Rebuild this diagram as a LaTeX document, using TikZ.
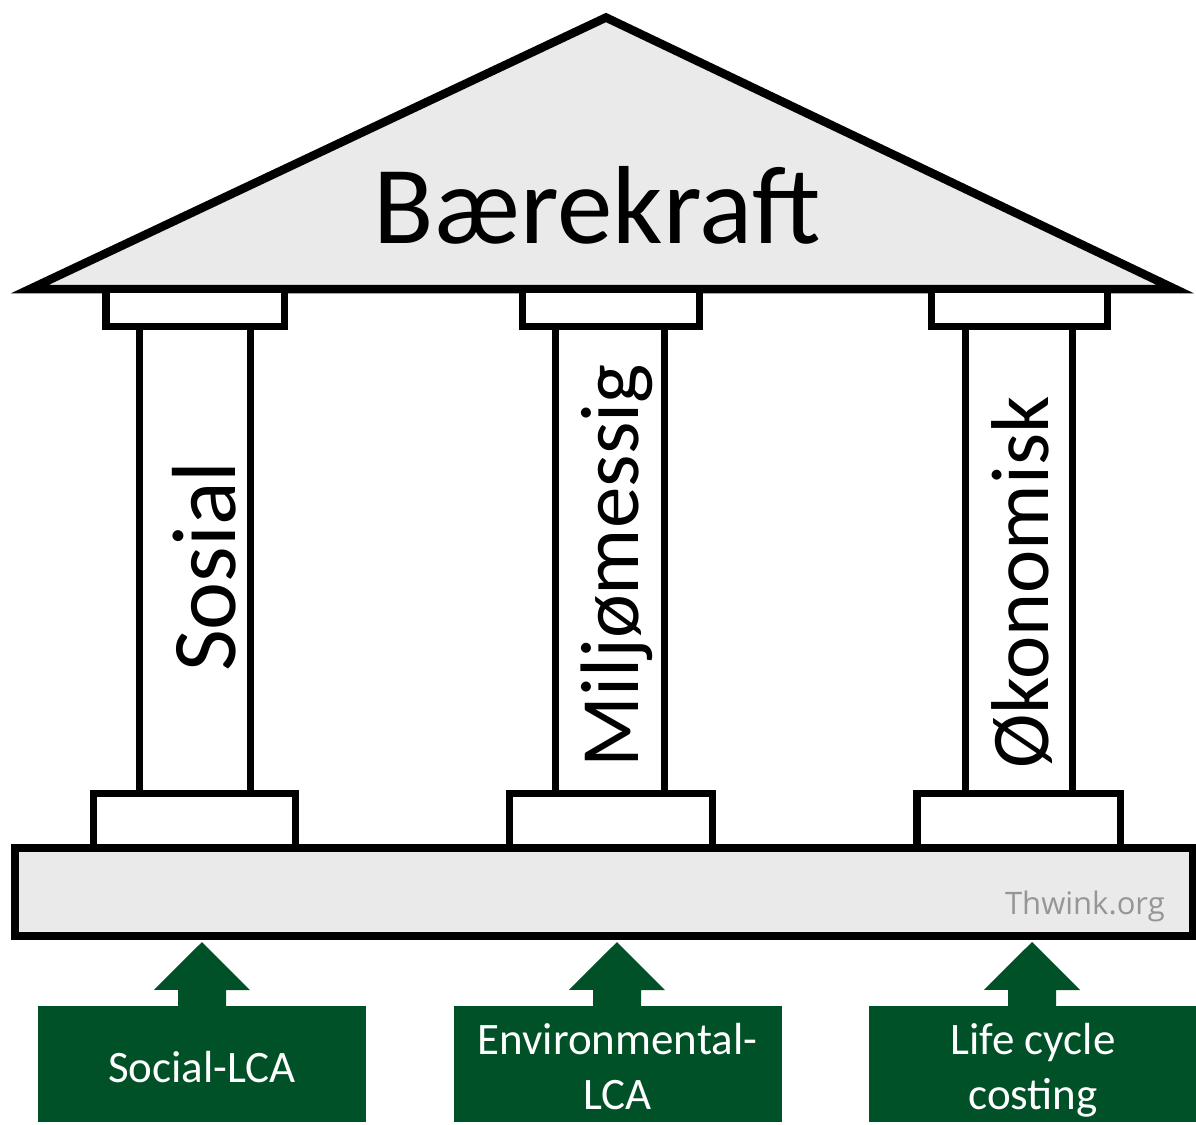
\documentclass[tikz,border=0pt]{standalone}
\usepackage{fontspec}
\setmainfont{Carlito}
\newfontfamily\wmfont{Open Sans}
\definecolor{roofgray}{RGB}{234,234,234}
\definecolor{lcagreen}{RGB}{0,80,40}
\definecolor{wmgray}{RGB}{150,150,150}
\tikzset{
  roofline/.style={line width=8.5pt, line join=miter, draw=black, fill=roofgray},
  partline/.style={line width=7.5pt, draw=black, fill=white},
  pillartext/.style={rotate=90, anchor=base west, inner sep=0pt, text=black},
  lcabox/.style={fill=lcagreen, draw=none, minimum width=328pt, minimum height=116pt,
    inner sep=0pt},
  lcatext/.style={inner sep=0pt, text=white, align=center, font=\fontsize{45}{55}\selectfont},
  blockarrow/.style={fill=lcagreen, draw=none}
}
\begin{document}
\begin{tikzpicture}[x=1pt,y=-1pt]
\useasboundingbox (0,0) rectangle (1196,1124);

% roof
\draw[roofline] (30,289) -- (606,17.5) -- (1175,289) -- cycle;
\node[inner sep=0pt, anchor=base, font=\fontsize{111}{120}\selectfont] (title) at (597,243) {Bærekraft};

% shafts
\draw[partline] (139.5,326.5) rectangle (250.5,793.5);
\draw[partline] (555.5,326.5) rectangle (664.5,793.5);
\draw[partline] (965.5,326.5) rectangle (1072.5,793.5);

% capitals
\draw[partline] (106,289) rectangle (284.5,326.5);
\draw[partline] (522.5,289) rectangle (699.5,326.5);
\draw[partline] (931.5,289) rectangle (1107.5,326.5);

% plinths
\draw[partline] (93.5,793.5) rectangle (295.5,848);
\draw[partline] (509.5,793.5) rectangle (712.5,848);
\draw[partline] (917,793.5) rectangle (1120.5,848);

% pillar labels
\node[pillartext, font=\fontsize{91}{100}\selectfont] (sosial) at (235,672) {Sosial};
\node[pillartext, font=\fontsize{83}{90}\selectfont] (miljo) at (638,768) {Miljømessig};
\node[pillartext, font=\fontsize{82}{90}\selectfont] (okonomi) at (1048,769) {Økonomisk};

% base slab
\draw[line width=8.5pt, draw=black, fill=roofgray] (15,848) rectangle (1193,936);
\node[anchor=base east, inner sep=0pt, text=wmgray, font=\wmfont\fontsize{31}{36}\selectfont] (wm) at (1165,914) {Thwink.org};

% method boxes
\node[lcabox] (slca) at (202,1064) {};
\node[lcabox] (elca) at (617.5,1064) {};
\node[lcabox] (lcc) at (1033,1064) {};
\node[lcatext] (slcaT) at (202,1067) {Social-LCA};
\node[lcatext] (elcaT) at (617.5,1067) {Environmental-\\LCA};
\node[lcatext] (lccT) at (1033,1070) {Life cycle\\costing};

% block arrows
\coordinate (tipS) at (202,942);
\coordinate (tipE) at (617,942);
\coordinate (tipL) at (1032,942);
\foreach \b/\t in {slca/tipS, elca/tipE, lcc/tipL}{
  \fill[blockarrow] ([xshift=-24pt]\b.north -| \t) -- ++(0,-16) -- ++(-24,0)
     -- (\t) -- ++(48,48) -- ++(-24,0) -- ([xshift=24pt]\b.north -| \t) -- cycle;
}
\end{tikzpicture}
\end{document}
